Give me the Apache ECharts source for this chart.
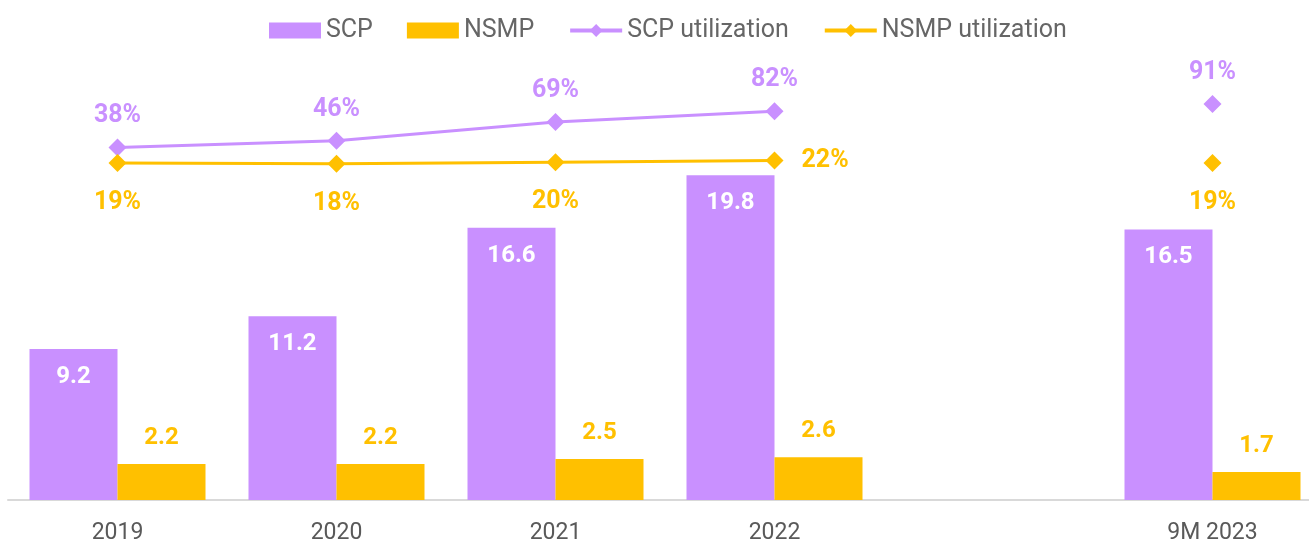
<!DOCTYPE html>
<html>
<head>
<meta charset="utf-8">
<script src="https://cdn.jsdelivr.net/npm/echarts@6/dist/echarts.min.js"></script>
<style>
  html, body { margin: 0; padding: 0; background: #fff; }
  #chart { width: 1309px; height: 547px; }
</style>
</head>
<body>
<div id="chart"></div>
<script>
// categories (blank slot keeps the gap before 9M 2023)
const categories = ["2019", "2020", "2021", "2022", "", "9M 2023"];
const scp = [9.2, 11.2, 16.6, 19.8, null, 16.5];
const nsmp = [2.2, 2.2, 2.5, 2.6, null, 1.7];
const scpUtil = [38, 46, 69, 82, null, 91];
const nsmpUtil = [19, 18, 20, 22, null, 19];

const PURPLE = "#C990FF";
const AMBER = "#FFC000";
const FONT = "Roboto";

const chart = echarts.init(document.getElementById("chart"));

const nsmpUtilData = nsmpUtil.map(function (v, i) {
  // 2022 label sits to the right of the point
  if (i === 3) return { value: v, label: { position: "right", distance: 18 } };
  return v;
});

const option = {
  animation: false,
  textStyle: { fontFamily: FONT },
  legend: {
    top: 13,
    left: 264,
    itemWidth: 52,
    itemHeight: 16,
    itemGap: 34,
    lineStyle: { width: 4 },
    textStyle: { fontSize: 25, color: "#666666", fontFamily: FONT },
    data: [
      { name: "SCP", icon: "rect" },
      { name: "NSMP", icon: "rect" },
      "SCP utilization",
      "NSMP utilization"
    ]
  },
  grid: { left: 8, width: 1314, top: 8, bottom: 47, outerBoundsMode: "none" },
  xAxis: {
    type: "category",
    data: categories,
    axisTick: { show: false },
    axisLine: { lineStyle: { color: "#d9d9d9", width: 2 } },
    axisLabel: { fontSize: 23, color: "#595959", margin: 22 }
  },
  yAxis: [
    { type: "value", min: 0, max: 30, show: false },
    { type: "value", min: -392, max: 208, show: false }
  ],
  series: [
    {
      name: "SCP",
      type: "bar",
      data: scp,
      barWidth: 88,
      barGap: "0%",
      itemStyle: { color: PURPLE },
      label: {
        show: true,
        position: "insideTop",
        distance: 16,
        color: "#fff",
        fontWeight: "bold",
        fontSize: 24
      }
    },
    {
      name: "NSMP",
      type: "bar",
      data: nsmp,
      barWidth: 88,
      itemStyle: { color: AMBER },
      label: {
        show: true,
        position: "top",
        distance: 14,
        color: AMBER,
        fontWeight: "bold",
        fontSize: 24
      }
    },
    {
      name: "SCP utilization",
      type: "line",
      yAxisIndex: 1,
      data: scpUtil,
      symbol: "diamond",
      symbolSize: 18,
      lineStyle: { color: PURPLE, width: 3 },
      itemStyle: { color: PURPLE },
      label: {
        show: true,
        position: "top",
        distance: 10,
        formatter: "{c}%",
        color: PURPLE,
        fontWeight: "bold",
        fontSize: 25
      }
    },
    {
      name: "NSMP utilization",
      type: "line",
      yAxisIndex: 1,
      data: nsmpUtilData,
      symbol: "diamond",
      symbolSize: 18,
      lineStyle: { color: AMBER, width: 3 },
      itemStyle: { color: AMBER },
      label: {
        show: true,
        position: "bottom",
        distance: 18,
        formatter: "{c}%",
        color: AMBER,
        fontWeight: "bold",
        fontSize: 25
      }
    }
  ]
};

chart.setOption(option);
</script>
</body>
</html>
